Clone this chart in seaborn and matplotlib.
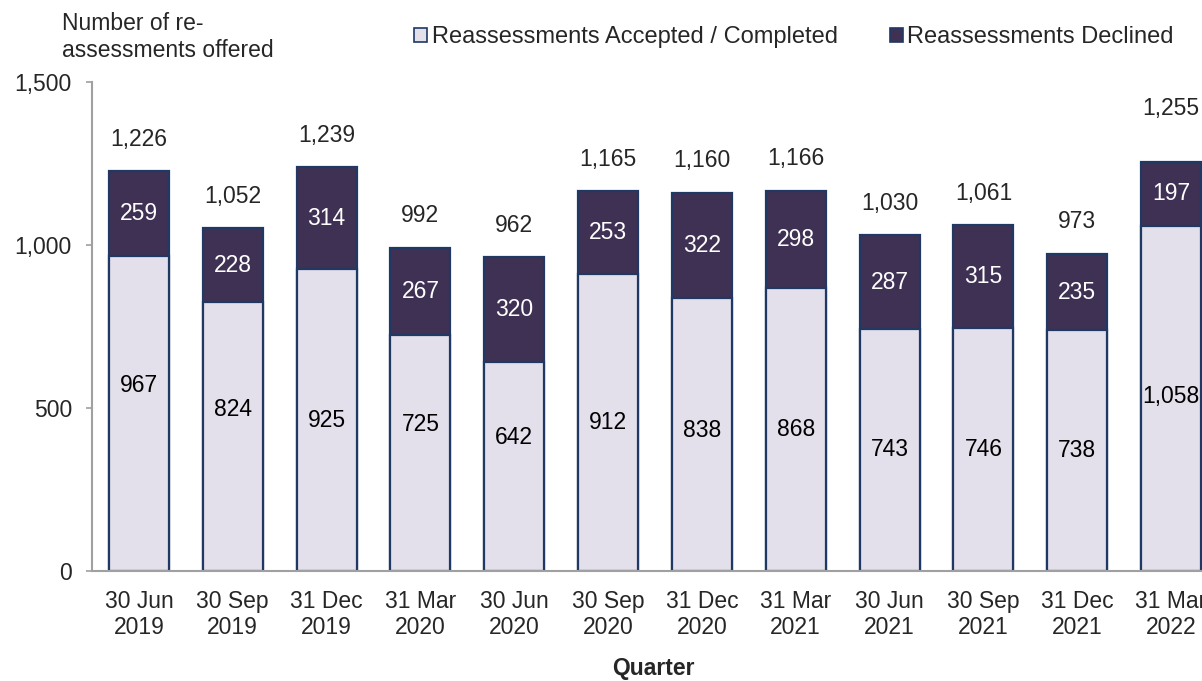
import matplotlib
matplotlib.use("Agg")
import matplotlib.pyplot as plt
from matplotlib.patches import Patch
import seaborn as sns
import pandas as pd

quarters = ["30 Jun\n2019", "30 Sep\n2019", "31 Dec\n2019", "31 Mar\n2020",
            "30 Jun\n2020", "30 Sep\n2020", "31 Dec\n2020", "31 Mar\n2021",
            "30 Jun\n2021", "30 Sep\n2021", "31 Dec\n2021", "31 Mar\n2022"]
accepted = [967, 824, 925, 725, 642, 912, 838, 868, 743, 746, 738, 1058]
declined = [259, 228, 314, 267, 320, 253, 322, 298, 287, 315, 235, 197]

# manual label nudges (data units) for labels, as placed in the source chart
accepted_label_nudge = [87, 82, 0, 86, 90, 0, 13, 0, 0, 0, 0, 5]
total_label_nudge = [0, 0, 0, 0, 0, 0, 0, 0, 0, 0, 0, 67]

light = "#E3DFEB"
dark = "#3F3153"
edge = "#1F3864"
FS = 16.5

sns.set_theme(style="white")
plt.rcParams["font.family"] = ["Liberation Sans", "DejaVu Sans"]

totals = [a + d for a, d in zip(accepted, declined)]
df = pd.DataFrame({"Quarter": quarters, "Accepted": accepted,
                   "Declined": declined, "Total": totals})

fig = plt.figure(figsize=(12.02, 6.81), dpi=100)
ax = fig.add_axes([92 / 1202, 110 / 681, 1126 / 1202, 489 / 681])

sns.barplot(data=df, x="Quarter", y="Total", color=dark, edgecolor=edge,
            linewidth=1.6, width=0.64, saturation=1, ax=ax)
sns.barplot(data=df, x="Quarter", y="Accepted", color=light, edgecolor=edge,
            linewidth=1.6, width=0.64, saturation=1, ax=ax)

ax.set_ylim(0, 1500)
ax.set_xlim(-0.5, len(quarters) - 0.5)
ax.set_yticks([0, 500, 1000, 1500])
ax.set_yticklabels([f"{v:,}" for v in [0, 500, 1000, 1500]], fontsize=FS)
ax.tick_params(axis="x", labelsize=FS, length=0, pad=13.5)
ax.tick_params(axis="y", length=4.5, width=1.2, color="#A0A0A0", left=True, pad=10)
ax.set_xlabel("")
ax.set_ylabel("")
for s in ["top", "right"]:
    ax.spines[s].set_visible(False)
for s in ["left", "bottom"]:
    ax.spines[s].set_color("#A0A0A0")
    ax.spines[s].set_linewidth(1.5)

for i, (a, d, t) in enumerate(zip(accepted, declined, totals)):
    ax.text(i, a / 2 + accepted_label_nudge[i], f"{a:,}", ha="center", va="center",
            fontsize=FS, color="black")
    ax.text(i, a + d / 2, f"{d:,}", ha="center", va="center",
            fontsize=FS, color="white")
    ax.annotate(f"{t:,}", (i, t + total_label_nudge[i]), xytext=(0, 23),
                textcoords="offset points", ha="center", va="center", fontsize=FS)

handles = [Patch(facecolor=light, edgecolor=edge, linewidth=1.2),
           Patch(facecolor=dark, edgecolor=edge, linewidth=1.2)]
fig.legend(handles, ["Reassessments Accepted / Completed", "Reassessments Declined"],
           loc="center", bbox_to_anchor=(794 / 1202, 1 - 37 / 681), ncol=2,
           frameon=False, fontsize=17, handlelength=0.55, handleheight=0.55,
           handletextpad=0.2, columnspacing=2.2, borderpad=0, borderaxespad=0)

fig.text(62 / 1202, 1 - 37 / 681, "Number of re-\nassessments offered",
         ha="left", va="center", fontsize=FS, linespacing=1.2)
fig.text(653 / 1202, 1 - 669 / 681, "Quarter", ha="center", va="center",
         fontsize=FS, fontweight="bold")

fig.savefig("out.png", dpi=100)
